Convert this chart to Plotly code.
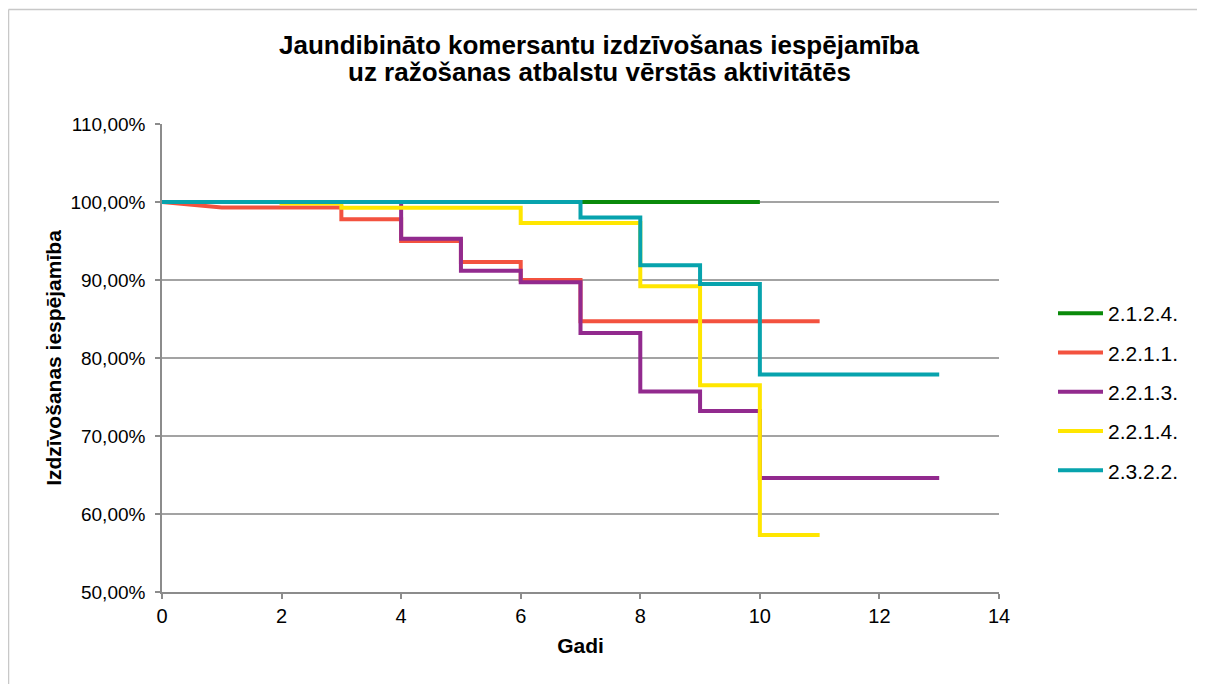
import plotly.graph_objects as go

# ---- data (survival probability, %) ----
series_names = ["2.1.2.4.", "2.2.1.1.", "2.2.1.3.", "2.2.1.4.", "2.3.2.2."]
series_colors = ["#0a8a0a", "#f3523f", "#922a8e", "#ffe600", "#07a3ad"]

x_2124 = [0, 10]
y_2124 = [100, 100]

x_2211 = [0, 1, 3, 3, 4, 4, 5, 5, 6, 6, 7, 7, 11]
y_2211 = [100, 99.3, 99.3, 97.8, 97.8, 95.0, 95.0, 92.3, 92.3, 90.0, 90.0, 84.7, 84.7]

x_2213 = [0, 4, 4, 5, 5, 6, 6, 7, 7, 8, 8, 9, 9, 10, 10, 13]
y_2213 = [100, 100, 95.3, 95.3, 91.2, 91.2, 89.7, 89.7, 83.2, 83.2, 75.7, 75.7, 73.2, 73.2, 64.6, 64.6]

x_2214 = [0, 2, 2, 3, 3, 6, 6, 8, 8, 9, 9, 10, 10, 11]
y_2214 = [100, 100, 99.8, 99.8, 99.25, 99.25, 97.3, 97.3, 89.2, 89.2, 76.5, 76.5, 57.3, 57.3]

x_2322 = [0, 7, 7, 8, 8, 9, 9, 10, 10, 13]
y_2322 = [100, 100, 98.0, 98.0, 91.9, 91.9, 89.5, 89.5, 77.9, 77.9]

xs = [x_2124, x_2211, x_2213, x_2214, x_2322]
ys = [y_2124, y_2211, y_2213, y_2214, y_2322]

title_lines = ["Jaundibināto komersantu izdzīvošanas iespējamība",
               "uz ražošanas atbalstu vērstās aktivitātēs"]
x_title = "Gadi"
y_title = "Izdzīvošanas iespējamība"

FONT = "Liberation Sans, Arial, sans-serif"
OFF = 8  # page body margin
W, H = 1205 - OFF, 684 - OFF
# plot area in page pixels: x 162..999, y 124..592
L, T = 162 - OFF, 124 - OFF
R = W - (999 - OFF)
B = H - (592 - OFF)
pw, ph = W - L - R, H - T - B

fig = go.Figure()
for name, color, x, y in zip(series_names, series_colors, xs, ys):
    fig.add_trace(go.Scatter(
        x=x, y=[v / 100 for v in y], mode="lines", name=name,
        legendgroup=name,
        line=dict(color=color, width=4),
        hoverinfo="skip",
    ))

def px_x(p):  # page px -> paper fraction
    return (p - OFF - L) / pw

def px_y(p):
    return (H - B - (p - OFF)) / ph

fig.update_layout(
    width=W, height=H,
    margin=dict(l=L, r=R, t=T, b=B, pad=0),
    paper_bgcolor="white", plot_bgcolor="white",
    separators=", ",
    font=dict(family=FONT, color="black", size=19),
    xaxis=dict(range=[0, 14], dtick=2, tick0=0,
               showgrid=False, zeroline=False,
               showline=True, linecolor="#8c8c8c", linewidth=1.5,
               ticks="outside", ticklen=5, tickcolor="#8c8c8c", tickwidth=1.5,
               tickfont=dict(size=20, family=FONT),
               title=dict(text="<b>" + x_title + "</b>", standoff=13,
                          font=dict(size=21, family=FONT))),
    yaxis=dict(range=[0.5, 1.1], dtick=0.1, tick0=0.5, tickformat=".2%",
               showgrid=True, gridcolor="#a3a3a3", gridwidth=1.5,
               zeroline=False,
               showline=True, linecolor="#8c8c8c", linewidth=1.5,
               ticks="outside", ticklen=5, tickcolor="#8c8c8c", tickwidth=1.5,
               ticklabelstandoff=6,
               tickfont=dict(size=19, family=FONT),
               title=dict(text="<b>" + y_title + "</b>", standoff=3,
                          font=dict(size=21, family=FONT))),
    legend=dict(x=px_x(1053), y=px_y(392), xanchor="left", yanchor="middle",
                xref="paper", yref="paper",
                font=dict(size=21, family=FONT),
                tracegroupgap=9, itemwidth=45,
                bgcolor="rgba(0,0,0,0)"),
    showlegend=True,
)

for line_text, yc in zip(title_lines, [45, 72]):
    fig.add_annotation(text="<b>" + line_text + "</b>", xref="paper", yref="paper",
                       x=px_x(599), y=px_y(yc), xanchor="center", yanchor="middle",
                       showarrow=False, font=dict(size=26, family=FONT, color="black"))

# chart-area border (top and left edges visible in the reference)
border = dict(color="#c8c8c8", width=1.5)
fig.add_shape(type="line", xref="paper", yref="paper",
              x0=px_x(OFF + 0.5), x1=px_x(W + 300), y0=px_y(9.5), y1=px_y(9.5),
              line=border, layer="below")
fig.add_shape(type="line", xref="paper", yref="paper",
              x0=px_x(OFF + 0.5), x1=px_x(OFF + 0.5), y0=px_y(9.5), y1=px_y(H + 300),
              line=border, layer="below")

fig.write_html("out.html")
